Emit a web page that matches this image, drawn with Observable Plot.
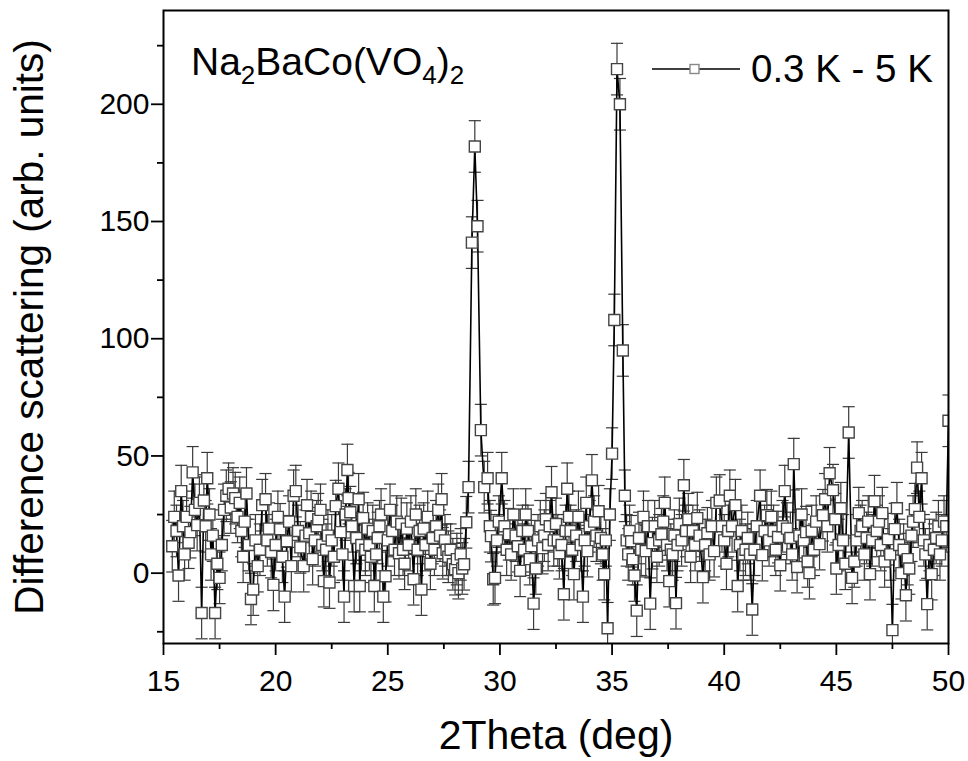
<!DOCTYPE html>
<html>
<head>
<meta charset="utf-8">
<script src="https://cdn.jsdelivr.net/npm/d3@7"></script>
<script src="https://cdn.jsdelivr.net/npm/@observablehq/plot@0.6"></script>
<style>
  html, body { margin: 0; padding: 0; background: #fff; }
  svg { display: block; }
</style>
</head>
<body>
<div id="chart"></div>
<script>
// ---- data: [2Theta (deg), difference scattering (arb. units)] ----
const scan = [
  [15.39,11.5],[15.48,24],[15.58,18],[15.67,-1],[15.79,35],[15.87,20],[15.94,8],[16.03,24],[16.12,13],[16.2,17.5],
  [16.3,43],[16.4,27],[16.5,20.5],[16.6,30],[16.7,-17],[16.8,31],[16.88,20],[16.95,40.5],[17.05,25],[17.12,8],
  [17.2,16],[17.3,-17],[17.4,4],[17.5,-2],[17.6,12],[17.7,27],[17.8,33],[17.9,36],[18.0,28],[18.1,34],
  [18.2,32],[18.3,24],[18.4,30],[18.47,18],[18.55,7],[18.62,22],[18.7,34],[18.8,12],[18.9,-11],[19.0,-7],
  [19.1,14],[19.2,3],[19.3,10],[19.4,29],[19.55,31.5],[19.63,14],[19.7,19],[19.8,9],[19.9,-5],[20.0,12],
  [20.1,24],[20.2,18.7],[20.3,7],[20.4,-10],[20.5,13.6],[20.6,22],[20.7,3],[20.8,33],[20.9,35],[21.0,18],
  [21.1,11],[21.25,3],[21.33,16],[21.4,29],[21.5,17],[21.58,24],[21.65,6],[21.75,14],[21.83,20],[21.9,23],
  [22.0,27],[22.08,12],[22.15,-3.4],[22.25,10],[22.33,16],[22.4,-4],[22.5,14],[22.6,7],[22.68,28.6],[22.8,36],
  [22.9,17.5],[22.98,8],[23.05,-10],[23.12,25],[23.2,44],[23.25,32],[23.33,26],[23.4,20],[23.5,-5.5],[23.6,15],
  [23.7,31.5],[23.75,-5.5],[23.82,12],[23.9,23.5],[24.0,10],[24.1,19],[24.18,12],[24.25,7],[24.33,18],[24.4,-5.5],
  [24.48,8],[24.55,15],[24.63,20],[24.7,25],[24.8,-10],[24.9,-1.3],[25.0,14],[25.1,27],[25.2,18],[25.3,10],
  [25.4,22],[25.5,8.5],[25.6,21],[25.68,10],[25.75,4],[25.85,19],[25.93,12],[26.03,22],[26.15,-2.6],[26.25,25],
  [26.33,10],[26.42,18],[26.5,-7],[26.6,19],[26.68,12],[26.78,24],[26.9,4],[27.0,15],[27.08,10],[27.15,20],
  [27.25,27],[27.33,16],[27.4,31.5],[27.45,8.5],[27.55,14],[27.62,10],[27.7,7],[27.8,10],[27.9,3.8],[28.0,1.7],
  [28.08,6],[28.15,0],[28.25,8],[28.32,2],[28.4,3.8],[28.5,21.7],[28.6,36.7],[28.75,141],[28.88,182],[29.0,148],
  [29.15,61],[29.3,36.7],[29.45,40.5],[29.55,20],[29.6,15.8],[29.7,-2.6],[29.78,-2],[29.87,14],[29.95,22],[30.08,40.5],
  [30.2,20],[30.3,10],[30.4,16.6],[30.5,8],[30.6,25],[30.7,16],[30.8,11.5],[30.9,1],[31.0,18],[31.08,10],
  [31.15,25],[31.25,18],[31.33,6],[31.4,11.5],[31.5,-13],[31.6,2],[31.7,14],[31.8,20],[31.9,10.7],[31.98,16],
  [32.05,23],[32.15,12],[32.22,20],[32.3,34.5],[32.4,14],[32.5,21],[32.58,14],[32.65,8.5],[32.75,12],[32.85,-9],
  [32.93,18],[33.0,36],[33.08,24],[33.15,18],[33.22,10],[33.3,-0.4],[33.4,16],[33.5,24],[33.6,12],[33.7,-10],
  [33.78,14],[33.85,30],[33.9,9.4],[34.0,20],[34.1,39.6],[34.2,22],[34.3,16],[34.4,26.4],[34.5,15],[34.58,8],
  [34.65,-0.4],[34.72,14],[34.8,-23.5],[34.9,25],[35.0,51],[35.1,108],[35.22,215],[35.35,200],[35.48,95],[35.57,33],
  [35.65,14],[35.72,8],[35.78,18],[35.85,13.6],[35.92,6],[36.0,-1],[36.1,-16],[36.2,15],[36.3,10],[36.4,24],
  [36.5,9.4],[36.6,20],[36.7,-13],[36.8,12.8],[36.9,20],[37.0,7],[37.1,14],[37.2,16.6],[37.28,22],[37.35,30],
  [37.45,12],[37.55,-3.4],[37.62,10],[37.7,8],[37.78,16],[37.85,-12.8],[37.92,12],[38.0,21],[38.1,14],[38.2,37.5],
  [38.3,18],[38.4,23],[38.5,7],[38.6,18],[38.7,12],[38.8,23.5],[38.9,16],[39.05,-1.7],[39.15,12],[39.25,17],
  [39.35,8],[39.45,20],[39.55,9.4],[39.65,30],[39.8,31],[39.9,20],[40.0,14],[40.1,4],[40.18,18],[40.25,33],
  [40.35,20],[40.5,29],[40.6,-5.5],[40.7,12],[40.78,18],[40.85,8],[40.95,10],[41.05,15],[41.15,8],[41.25,-15.5],
  [41.35,10],[41.45,20],[41.6,33],[41.7,7.7],[41.8,18],[41.9,24.7],[42.0,14],[42.1,24],[42.2,18],[42.3,10],
  [42.4,15.4],[42.5,3.4],[42.6,20],[42.7,35],[42.8,19],[42.95,15],[43.03,8],[43.1,46.5],[43.25,2.6],[43.35,16],
  [43.45,25],[43.55,14],[43.65,17.5],[43.72,5],[43.8,0],[43.9,18],[44.0,10],[44.1,22],[44.25,12.4],[44.4,24.7],
  [44.5,31.5],[44.6,20],[44.7,42.6],[44.85,35.4],[44.95,23],[45.0,2],[45.1,12],[45.2,27.7],[45.3,14],[45.4,4],
  [45.55,60],[45.7,-2],[45.8,5],[45.9,14],[46.0,25.6],[46.08,18],[46.15,20],[46.25,8],[46.35,15],[46.42,22],
  [46.5,-0.4],[46.6,14],[46.7,30.7],[46.8,18],[46.9,22],[46.98,12],[47.05,25.6],[47.15,5],[47.3,14.5],[47.4,8],
  [47.5,-24.3],[47.6,18.8],[47.7,27.7],[47.8,12],[47.9,0],[48.0,10],[48.1,-9.4],[48.18,6],[48.25,2],[48.35,16],
  [48.42,22],[48.5,27.3],[48.6,45],[48.7,24],[48.8,40.5],[48.9,14],[48.97,8],[49.05,-13.2],[49.15,12],[49.25,-0.4],
  [49.35,10],[49.45,15],[49.55,20],[49.62,8],[49.7,14],[49.8,22],[49.9,20],[50.0,65]
];
const errHalf = 11;          // half-length of the error bars (arb. units)
const capHalfWidth = 0.27;   // half-width of the error bar caps (deg)

const xMajorTicks = [15, 20, 25, 30, 35, 40, 45, 50];
const xMinorTicks = [17.5, 22.5, 27.5, 32.5, 37.5, 42.5, 47.5];
const yMajorTicks = [0, 50, 100, 150, 200];
const yMinorTicks = [-25, 25, 75, 125, 175, 225];

const xTitle = "2Theta (deg)";
const yTitle = "Difference scattering (arb. units)";
const legendLabel = "0.3 K - 5 K";

const rows = scan.map(([x, y]) => ({x, y}));
const FONT = "'Liberation Sans', Arial, Helvetica, sans-serif";

const svg = Plot.plot({
  width: 968,
  height: 761,
  marginLeft: 163,
  marginRight: 20,
  marginTop: 10,
  marginBottom: 118,
  style: {fontFamily: FONT, color: "black", background: "white"},
  x: {domain: [15, 50]},
  y: {domain: [-30, 240]},
  marks: [
    // error bars
    Plot.ruleX(rows, {x: "x", y1: d => d.y - errHalf, y2: d => d.y + errHalf, stroke: "#3a3a3a", strokeWidth: 1.2, clip: true}),
    Plot.link(rows, {x1: d => d.x - capHalfWidth, x2: d => d.x + capHalfWidth, y1: d => d.y + errHalf, y2: d => d.y + errHalf, stroke: "#3a3a3a", strokeWidth: 1.2, clip: true}),
    Plot.link(rows, {x1: d => d.x - capHalfWidth, x2: d => d.x + capHalfWidth, y1: d => d.y - errHalf, y2: d => d.y - errHalf, stroke: "#3a3a3a", strokeWidth: 1.2, clip: true}),
    // connecting line
    Plot.line(rows, {x: "x", y: "y", stroke: "black", strokeWidth: 1.6, clip: true}),
    // square markers
    Plot.dot(rows, {x: "x", y: "y", symbol: "square", r: 6.2, fill: "white", stroke: "#444", strokeWidth: 1.4, clip: true}),
    // axes
    Plot.axisX(xMajorTicks, {tickSize: 12, tickPadding: 14, fontSize: 30, label: null, strokeWidth: 1.8}),
    Plot.axisX(xMinorTicks, {tickSize: 6, text: null, label: null, strokeWidth: 1.8}),
    Plot.axisY(yMajorTicks, {tickSize: 12, tickPadding: 2, fontSize: 30, label: null, strokeWidth: 1.8}),
    Plot.axisY(yMinorTicks, {tickSize: 6, text: null, label: null, strokeWidth: 1.8}),
    Plot.frame({stroke: "black", strokeWidth: 2}),
    // axis titles
    Plot.text([xTitle], {frameAnchor: "bottom", textAnchor: "middle", dy: 105, fontSize: 41, fill: "black"}),
    Plot.text([yTitle], {frameAnchor: "left", textAnchor: "middle", rotate: -90, dx: -133, fontSize: 40.5, fill: "black"})
  ]
});

// legend (top right, inside the frame)
const s = d3.select(svg);
const lg = s.append("g").attr("font-family", FONT).attr("text-anchor", "start");
lg.append("line").attr("x1", 652).attr("x2", 740).attr("y1", 69).attr("y2", 69)
  .attr("stroke", "black").attr("stroke-width", 1.5);
lg.append("rect").attr("x", 690).attr("y", 64.5).attr("width", 9).attr("height", 9)
  .attr("fill", "white").attr("stroke", "#888").attr("stroke-width", 1.4);
lg.append("text").attr("x", 751).attr("y", 82).attr("font-size", 38.5).attr("fill", "black").text(legendLabel);

// compound label with subscripts
const t = s.append("text").attr("x", 191).attr("y", 75).attr("font-size", 39)
  .attr("font-family", FONT).attr("text-anchor", "start").attr("fill", "black");
const parts = [["Na", false], ["2", true], ["BaCo(VO", false], ["4", true], [")", false], ["2", true]];
parts.forEach(([txt, sub], i) => {
  const prevSub = i > 0 && parts[i - 1][1];
  const ts = t.append("tspan").text(txt);
  if (sub) ts.attr("font-size", 26);
  ts.attr("dy", sub ? (prevSub ? 0 : 9) : (prevSub ? -9 : 0));
});

document.getElementById("chart").appendChild(svg);
</script>
</body>
</html>
